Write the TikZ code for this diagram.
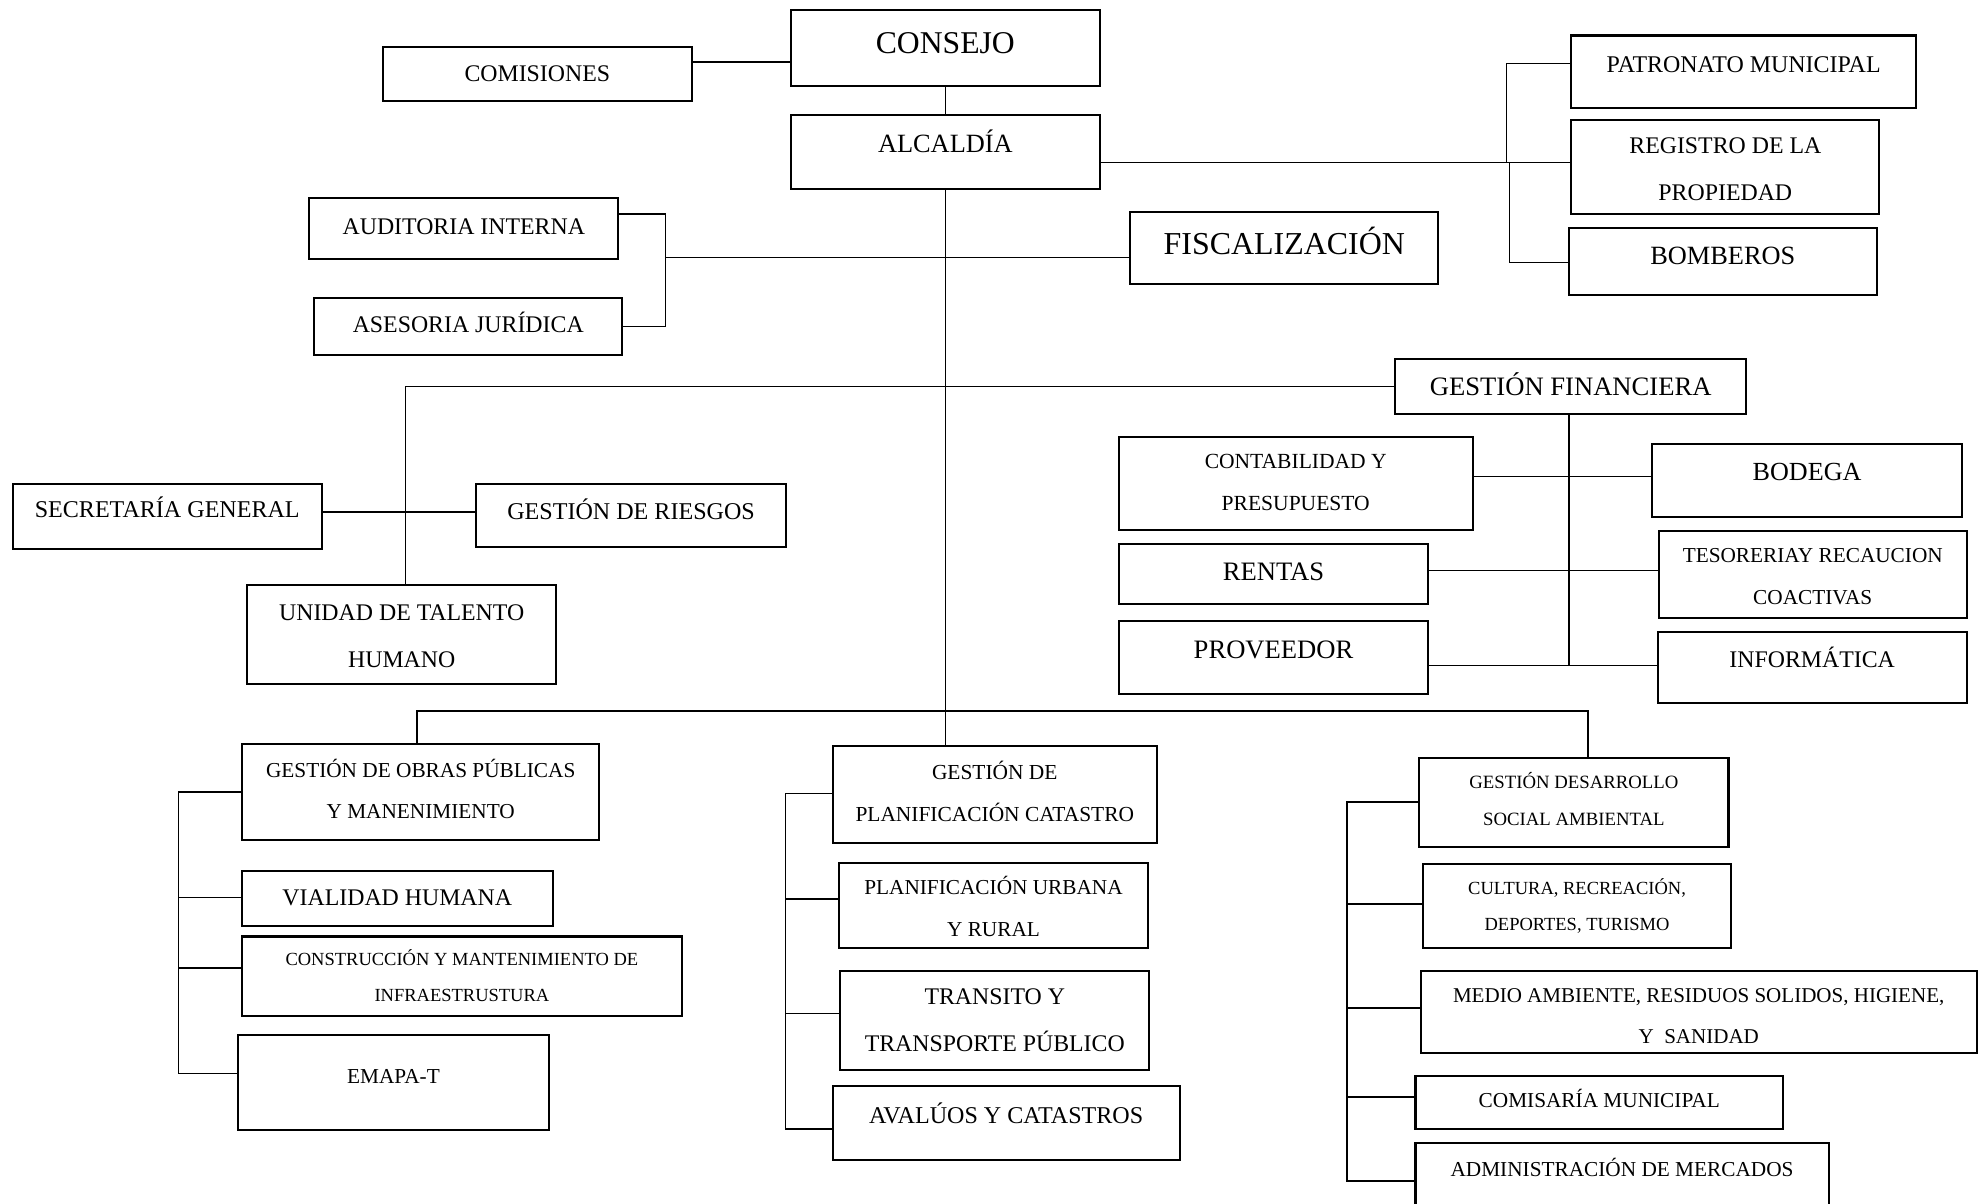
\documentclass[tikz,border=0pt]{standalone}
\usepackage{fontspec}
\setmainfont{Liberation Serif}
\tikzset{
  bx/.style={draw, rectangle, line width=0.8pt, inner sep=0pt},
  ln/.style={line width=0.55pt},
  tx/.style={anchor=base, inner sep=0pt}
}
\newcommand\mybox[5]{\node[bx, minimum width={(#4-#2)*0.5pt}, minimum height={(#5-#3)*0.5pt}] (#1) at ({(#2+#4)/2},{(#3+#5)/2}) {};}
\newcommand\mytxt[5]{\node[tx, font={\fontsize{#3}{#3}\selectfont}] (#1) at (#2 |- 0,#4) {#5};}
\begin{document}
\begin{tikzpicture}[x=0.5pt,y=-0.5pt]
\useasboundingbox (0,0) rectangle (1568,950);
\fill[white] (0,0) rectangle (1568,950);
\clip (0,0) rectangle (1568,950);
% boxes
\mybox{consejo}{624}{8}{868}{68}
\mybox{comisiones}{302}{37}{546}{80}
\mybox{alcaldia}{624}{91}{868}{149}
\mybox{patronato}{1240}{28}{1512}{85}
\mybox{registro}{1240}{95}{1483}{169}
\mybox{bomberos}{1238}{180}{1481}{233}
\mybox{fiscal}{892}{167}{1135}{224}
\mybox{auditoria}{244}{156}{488}{204}
\mybox{asesoria}{248}{235}{491}{280}
\mybox{financiera}{1101}{283}{1378}{327}
\mybox{contab}{883}{345}{1162}{418}
\mybox{bodega}{1304}{350}{1548}{408}
\mybox{rentas}{883}{429}{1127}{477}
\mybox{tesoreria}{1309}{419}{1552}{488}
\mybox{proveedor}{883}{490}{1127}{548}
\mybox{informatica}{1308}{499}{1552}{555}
\mybox{secretaria}{10}{382}{254}{433}
\mybox{riesgos}{376}{382}{620}{432}
\mybox{talento}{195}{462}{439}{540}
\mybox{obras}{191}{587}{473}{663}
\mybox{vialidad}{191}{687}{436}{731}
\mybox{construccion}{191}{739}{538}{802}
\mybox{emapa}{188}{817}{433}{892}
\mybox{plancat}{657}{589}{913}{665}
\mybox{planurb}{662}{681}{906}{748}
\mybox{transito}{663}{766}{907}{844}
\mybox{avaluos}{657}{857}{931}{915}
\mybox{desarrollo}{1120}{598}{1364}{668}
\mybox{cultura}{1123}{682}{1366}{748}
\mybox{medio}{1121}{766}{1560}{831}
\mybox{comisaria}{1117}{849}{1407}{891}
\mybox{mercados}{1117}{902}{1443}{975}
% texts
\mytxt{t-consejo}{consejo}{12.5}{42}{CONSEJO}
\mytxt{t-comisiones}{comisiones}{9.4}{64.5}{COMISIONES}
\mytxt{t-alcaldia}{alcaldia}{10.4}{120.7}{ALCALDÍA}
\mytxt{t-patronato}{patronato}{9.45}{57.4}{PATRONATO MUNICIPAL}
\mytxt{t-registro1}{registro}{9.4}{121.5}{REGISTRO DE LA}
\mytxt{t-registro2}{registro}{9.4}{158}{PROPIEDAD}
\mytxt{t-bomberos}{bomberos}{10.4}{209}{BOMBEROS}
\mytxt{t-fiscal}{fiscal}{12.6}{201}{FISCALIZACIÓN}
\mytxt{t-auditoria}{auditoria}{9.4}{185}{AUDITORIA INTERNA}
\mytxt{t-asesoria}{asesoria}{9.4}{262}{ASESORIA JURÍDICA}
\mytxt{t-financiera}{financiera}{10.5}{311.7}{GESTIÓN FINANCIERA}
\mytxt{t-contab1}{contab}{8.5}{370}{CONTABILIDAD Y}
\mytxt{t-contab2}{contab}{8.5}{403}{PRESUPUESTO}
\mytxt{t-bodega}{bodega}{10.3}{379.3}{BODEGA}
\mytxt{t-rentas}{rentas}{10.5}{457.7}{RENTAS}
\mytxt{t-tesoreria1}{tesoreria}{8.4}{444}{TESORERIAY RECAUCION}
\mytxt{t-tesoreria2}{tesoreria}{8.4}{477.4}{COACTIVAS}
\mytxt{t-proveedor}{proveedor}{10.5}{519.5}{PROVEEDOR}
\mytxt{t-informatica}{informatica}{9.4}{527}{INFORMÁTICA}
\mytxt{t-secretaria}{secretaria}{9.5}{408.5}{SECRETARÍA GENERAL}
\mytxt{t-riesgos}{riesgos}{9.5}{409.6}{GESTIÓN DE RIESGOS}
\mytxt{t-talento1}{talento}{9.4}{489.3}{UNIDAD DE TALENTO}
\mytxt{t-talento2}{talento}{9.4}{526.6}{HUMANO}
\mytxt{t-obras1}{obras}{8.4}{613.4}{GESTIÓN DE OBRAS PÚBLICAS}
\mytxt{t-obras2}{obras}{8.4}{645.8}{Y MANENIMIENTO}
\mytxt{t-vialidad}{vialidad}{9.4}{714.2}{VIALIDAD HUMANA}
\mytxt{t-construccion1}{construccion}{7.3}{761.5}{CONSTRUCCIÓN Y MANTENIMIENTO DE}
\mytxt{t-construccion2}{construccion}{7.3}{790.5}{INFRAESTRUSTURA}
\mytxt{t-emapa}{emapa}{8.4}{854.9}{EMAPA-T}
\mytxt{t-plancat1}{plancat}{8.45}{615.5}{GESTIÓN DE}
\mytxt{t-plancat2}{plancat}{8.45}{648}{PLANIFICACIÓN CATASTRO}
\mytxt{t-planurb1}{planurb}{8.4}{705.5}{PLANIFICACIÓN URBANA}
\mytxt{t-planurb2}{planurb}{8.4}{739}{Y RURAL}
\mytxt{t-transito1}{transito}{9.4}{793}{TRANSITO Y}
\mytxt{t-transito2}{transito}{9.4}{830}{TRANSPORTE PÚBLICO}
\mytxt{t-avaluos}{avaluos}{9.5}{886.5}{AVALÚOS Y CATASTROS}
\mytxt{t-desarrollo1}{desarrollo}{7.4}{622.5}{GESTIÓN DESARROLLO}
\mytxt{t-desarrollo2}{desarrollo}{7.4}{651.5}{SOCIAL AMBIENTAL}
\mytxt{t-cultura1}{cultura}{7.3}{705.8}{CULTURA, RECREACIÓN,}
\mytxt{t-cultura2}{cultura}{7.3}{734.2}{DEPORTES, TURISMO}
\mytxt{t-medio1}{medio}{8.3}{790.7}{MEDIO AMBIENTE, RESIDUOS SOLIDOS, HIGIENE,}
\mytxt{t-medio2}{medio}{8.3}{823.5}{Y\ \ SANIDAD}
\mytxt{t-comisaria}{comisaria}{8.4}{874.2}{COMISARÍA MUNICIPAL}
\mytxt{t-mercados}{mercados}{8.4}{928}{ADMINISTRACIÓN DE MERCADOS}
% connectors
\draw[ln] (comisiones.east |- 0,49) -- (consejo.west |- 0,49);
\draw[ln] (consejo.south) -- (alcaldia.north);
\draw[ln] (alcaldia.south) -- (alcaldia.south |- plancat.north);
% right group of alcaldia
\coordinate (rb) at (1189,128);
\draw[ln] (alcaldia.east |- rb) -- (registro.west |- rb);
\draw[ln] (patronato.west |- 0,50) -| (rb);
\draw[ln] (bomberos.west |- 0,207) -| (1191,128);
% auditoria / asesoria / fiscalizacion
\coordinate (ab) at (525,203);
\draw[ln] (auditoria.east |- 0,169) -| (ab) |- (asesoria.east);
\draw[ln] (ab) -- (fiscal.west |- ab);
% financiera bus
\draw[ln] (financiera.west) -| (talento.north -| 320,0);
\draw[ln] (secretaria.east |- 0,404) -- (riesgos.west |- 0,404);
\draw[ln] (financiera.south -| 1238,0) -- (1238,525);
\draw[ln] (contab.east |- 0,376) -- (bodega.west |- 0,376);
\draw[ln] (rentas.east |- 0,450) -- (tesoreria.west |- 0,450);
\draw[ln] (proveedor.east |- 0,525) -- (informatica.west |- 0,525);
% bottom bus
\draw[ln] (obras.north -| 329,0) |- (1253,561) -- (desarrollo.north -| 1253,0);
% left bracket
\draw[ln] (obras.west |- 0,625) -| (141,847) -- (emapa.west |- 0,847);
\draw[ln] (141,708) -- (vialidad.west |- 0,708);
\draw[ln] (141,764) -- (construccion.west |- 0,764);
% middle bracket
\draw[ln] (plancat.west |- 0,626) -| (620,891) -- (avaluos.west |- 0,891);
\draw[ln] (620,709.5) -- (planurb.west |- 0,709.5);
\draw[ln] (620,800) -- (transito.west |- 0,800);
% right bracket
\draw[ln] (desarrollo.west |- 0,633) -| (1063,932) -- (mercados.west |- 0,932);
\draw[ln] (1063,713.5) -- (cultura.west |- 0,713.5);
\draw[ln] (1063,795.5) -- (medio.west |- 0,795.5);
\draw[ln] (1063,865.6) -- (comisaria.west |- 0,865.6);
\end{tikzpicture}
\end{document}
